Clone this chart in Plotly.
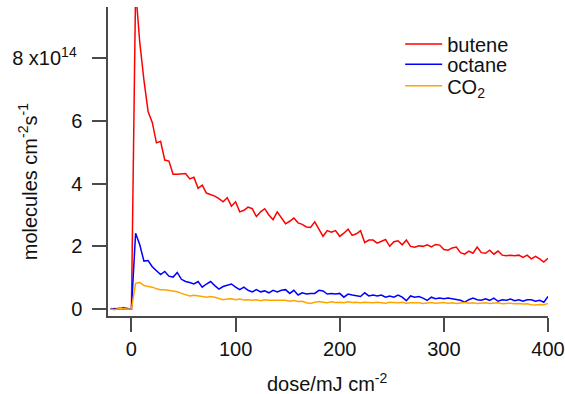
import plotly.graph_objects as go

dose = list(range(-20, 401, 4))

butene = [0.0, 0.02, 0.0, 0.05, 0.02, 0.0,
          10.2, 8.5, 7.3, 6.3, 5.95, 5.3, 5.35, 4.75, 4.72, 4.3, 4.3, 4.3, 4.32, 4.15, 4.2,
          3.85, 3.95, 3.7, 3.65, 3.6, 3.52, 3.42, 3.55, 3.28, 3.42, 3.1, 3.15, 3.25, 3.2,
          2.95, 3.1, 3.2, 3.0, 2.85, 3.1, 2.9, 2.72, 2.8, 2.9, 2.75, 2.7, 2.62, 2.6, 2.78,
          2.55, 2.32, 2.5, 2.45, 2.5, 2.32, 2.42, 2.55, 2.35, 2.4, 2.5, 2.12, 2.2, 2.2, 2.1,
          2.15, 2.22, 2.0, 2.15, 2.18, 2.05, 2.2, 2.0, 1.97, 2.02, 2.0, 2.05, 1.98, 2.06,
          2.04, 1.9, 1.88, 1.95, 1.98, 1.8, 1.75, 1.85, 1.78, 1.98, 1.8, 1.78, 1.88, 1.75,
          1.85, 1.72, 1.7, 1.72, 1.7, 1.72, 1.65, 1.72, 1.6, 1.68, 1.6, 1.5, 1.62]

octane = [0.02, 0.0, 0.03, 0.0, 0.02, 0.0,
          2.42, 2.05, 1.53, 1.55, 1.35, 1.22, 1.1, 1.2, 1.05, 1.02, 1.17, 0.95, 0.88, 0.85,
          0.8, 0.88, 0.7, 0.8, 0.88, 0.75, 0.64, 0.72, 0.75, 0.8, 0.7, 0.62, 0.7, 0.6, 0.55,
          0.62, 0.55, 0.58, 0.52, 0.6, 0.55, 0.6, 0.62, 0.5, 0.6, 0.45, 0.52, 0.48, 0.5, 0.5,
          0.6, 0.58, 0.48, 0.5, 0.48, 0.5, 0.38, 0.48, 0.45, 0.42, 0.4, 0.52, 0.42, 0.45,
          0.42, 0.45, 0.38, 0.42, 0.38, 0.45, 0.38, 0.27, 0.42, 0.38, 0.4, 0.35, 0.28, 0.38,
          0.33, 0.35, 0.33, 0.35, 0.33, 0.3, 0.28, 0.22, 0.3, 0.35, 0.3, 0.28, 0.33, 0.28,
          0.35, 0.25, 0.3, 0.28, 0.32, 0.27, 0.3, 0.25, 0.3, 0.3, 0.25, 0.28, 0.22, 0.4]

co2 = [0.0, -0.02, 0.02, 0.0, 0.0, 0.0,
       0.82, 0.85, 0.75, 0.72, 0.7, 0.65, 0.62, 0.62, 0.6, 0.56, 0.55, 0.5, 0.45, 0.42,
       0.44, 0.43, 0.4, 0.38, 0.4, 0.38, 0.35, 0.3, 0.32, 0.33, 0.3, 0.32, 0.29, 0.3, 0.28,
       0.3, 0.27, 0.3, 0.28, 0.28, 0.27, 0.26, 0.28, 0.25, 0.27, 0.24, 0.25, 0.2, 0.18,
       0.22, 0.24, 0.22, 0.2, 0.23, 0.21, 0.22, 0.2, 0.23, 0.21, 0.22, 0.2, 0.22, 0.21,
       0.2, 0.22, 0.2, 0.19, 0.22, 0.21, 0.2, 0.22, 0.19, 0.2, 0.21, 0.2, 0.18, 0.2, 0.21,
       0.19, 0.2, 0.21, 0.19, 0.2, 0.18, 0.2, 0.21, 0.19, 0.2, 0.18, 0.19, 0.2, 0.18, 0.19,
       0.2, 0.17, 0.18, 0.19, 0.17, 0.18, 0.16, 0.17, 0.14, 0.13, 0.15, 0.14, 0.18]

y_tickvals = [0, 2, 4, 6, 8]
y_ticktext = ["0", "2", "4", "6", "8 x10<sup>14</sup>\u00a0"]
x_tickvals = [0, 100, 200, 300, 400]

FONT = "Liberation Sans, Arial, Helvetica, sans-serif"
AXIS_COLOR = "#4a4a4a"
FS = 20

fig = go.Figure()
fig.add_trace(go.Scatter(x=dose, y=butene, mode="lines", name="butene", legend="legend",
                         line=dict(color="#FF0000", width=1.5)))
fig.add_trace(go.Scatter(x=dose, y=octane, mode="lines", name="octane", legend="legend2",
                         line=dict(color="#0000FF", width=1.5)))
fig.add_trace(go.Scatter(x=dose, y=co2, mode="lines", name="CO<sub>2</sub>", legend="legend3",
                         line=dict(color="#FFA500", width=1.5)))

axis_common = dict(showgrid=False, zeroline=False, showline=True, linecolor=AXIS_COLOR,
                   linewidth=1.5, ticks="outside", ticklen=14, tickwidth=1.5,
                   tickcolor=AXIS_COLOR, tickfont=dict(size=FS, color="#111111"),
                   automargin=False, mirror=False)

leg_common = dict(xanchor="left", yanchor="middle", x=0.664,
                  bgcolor="rgba(0,0,0,0)", font=dict(size=FS), itemwidth=37)

fig.update_layout(
    width=565, height=394,
    margin=dict(l=108, r=17, t=7, b=78, autoexpand=False),
    paper_bgcolor="white", plot_bgcolor="white",
    font=dict(family=FONT, color="#111111", size=FS),
    showlegend=True,
    legend=dict(y=0.880, **leg_common),
    legend2=dict(y=0.815, **leg_common),
    legend3=dict(y=0.745, **leg_common),
    xaxis=dict(range=[-22.5, 400], tickvals=x_tickvals, **axis_common),
    yaxis=dict(range=[-0.22, 9.63], tickvals=y_tickvals, ticktext=y_ticktext,
               ticklabelstandoff=6, **axis_common),
    annotations=[
        dict(text="dose/mJ cm<sup>-2</sup>", xref="paper", yref="paper",
             x=0.498, y=-0.216, xanchor="center", yanchor="middle", showarrow=False,
             font=dict(size=FS)),
        dict(text="molecules cm<sup>-2</sup>s<sup>-1</sup>", xref="paper", yref="paper",
             x=-0.181, y=0.434, xanchor="center", yanchor="middle", showarrow=False,
             textangle=-90, font=dict(size=FS)),
    ],
)

fig.write_html("out.html", config={"displayModeBar": False},
               post_script="document.body.style.margin='0';document.body.style.overflow='hidden';")
